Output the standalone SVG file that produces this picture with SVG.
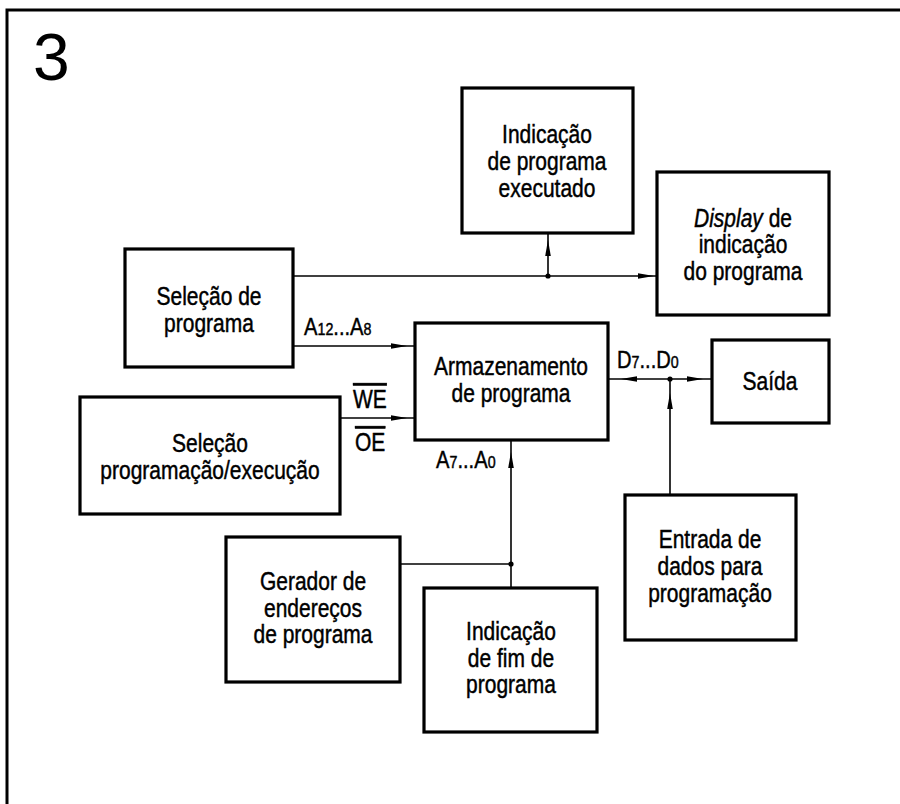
<svg xmlns="http://www.w3.org/2000/svg" xmlns:xlink="http://www.w3.org/1999/xlink" width="900" height="804" viewBox="0 0 900 804">
<style>
.frame{fill:none;stroke:#000;stroke-width:3}
.box{fill:#fff;stroke:#000;stroke-width:3.2}
.t{font-family:"Liberation Sans",Arial,sans-serif;font-size:25px;text-anchor:middle;fill:#000;stroke:#000;stroke-width:0.45}
.lbl{font-family:"Liberation Sans",Arial,sans-serif;font-size:24px;text-anchor:start;fill:#000;stroke:#000;stroke-width:0.45}
.sub{font-size:17px}
.ol{text-decoration:overline}
.wire{fill:none;stroke:#000;stroke-width:1.6}
.dot{fill:#000}
.ah{fill:#000}
</style>
<defs>
<path id="ah" d="M0,0 L-16,-2.8 L-16,2.8 Z"/>
</defs>
<rect width="900" height="804" fill="#fff"/>
<path class="frame" d="M7,804 V10 H900"/>
<text x="33" y="80" font-family="Liberation Sans,Arial,sans-serif" font-size="66" fill="#000">3</text>

<g id="connectors">
<path class="wire" d="M293,276 H657"/>
<path class="wire" d="M548,276 V233"/>
<path class="wire" d="M293,346 H415"/>
<path class="wire" d="M340,418 H415"/>
<path class="wire" d="M511,440 V588"/>
<path class="wire" d="M400,564 H511"/>
<path class="wire" d="M608,379 H712"/>
<path class="wire" d="M670,379 V495"/>
<use href="#ah" class="ah" transform="translate(654,276)"/>
<use href="#ah" class="ah" transform="translate(548,240) rotate(-90)"/>
<use href="#ah" class="ah" transform="translate(407,346)"/>
<use href="#ah" class="ah" transform="translate(407,418)"/>
<use href="#ah" class="ah" transform="translate(511,452) rotate(-90)"/>
<use href="#ah" class="ah" transform="translate(621,379) rotate(180)"/>
<use href="#ah" class="ah" transform="translate(703,379)"/>
<use href="#ah" class="ah" transform="translate(670,393) rotate(-90)"/>
<circle class="dot" cx="548" cy="276" r="2.6"/>
<circle class="dot" cx="511" cy="564" r="2.6"/>
<circle class="dot" cx="670" cy="379" r="2.6"/>
<text class="lbl" transform="translate(304,0) scale(0.84,1)"><tspan x="0" y="335">A</tspan><tspan class="sub" y="335">12</tspan><tspan y="335">...A</tspan><tspan class="sub" y="335">8</tspan></text>
<text class="lbl" transform="translate(353,0) scale(0.84,1)" style="font-size:25px"><tspan class="ol" x="0" y="408">WE</tspan></text>
<text class="lbl" transform="translate(355,0) scale(0.84,1)" style="font-size:25px"><tspan class="ol" x="0" y="451">OE</tspan></text>
<text class="lbl" transform="translate(436,0) scale(0.84,1)"><tspan x="0" y="468">A</tspan><tspan class="sub" y="468">7</tspan><tspan y="468">...A</tspan><tspan class="sub" y="468">0</tspan></text>
<text class="lbl" transform="translate(617,0) scale(0.84,1)"><tspan x="0" y="368">D</tspan><tspan class="sub" y="368">7</tspan><tspan y="368">...D</tspan><tspan class="sub" y="368">0</tspan></text>
</g>

<g id="n-execind">
<rect class="box" x="462" y="88" width="171" height="145"/>
<text class="t" transform="translate(547,0) scale(0.84,1)"><tspan x="0" y="143">Indicação</tspan><tspan x="0" y="170">de programa</tspan><tspan x="0" y="197">executado</tspan></text>
</g>
<g id="n-display">
<rect class="box" x="657" y="172" width="172" height="143"/>
<text class="t" transform="translate(743,0) scale(0.84,1)"><tspan x="0" y="227"><tspan font-style="italic">Display</tspan> de</tspan><tspan x="0" y="253">indicação</tspan><tspan x="0" y="280">do programa</tspan></text>
</g>
<g id="n-selprog">
<rect class="box" x="125" y="249" width="168" height="118"/>
<text class="t" transform="translate(209,0) scale(0.84,1)"><tspan x="0" y="305">Seleção de</tspan><tspan x="0" y="332">programa</tspan></text>
</g>
<g id="n-armaz">
<rect class="box" x="415" y="323" width="193" height="117"/>
<text class="t" transform="translate(511,0) scale(0.84,1)"><tspan x="0" y="375">Armazenamento</tspan><tspan x="0" y="402">de programa</tspan></text>
</g>
<g id="n-saida">
<rect class="box" x="712" y="340" width="117" height="83"/>
<text class="t" transform="translate(770,0) scale(0.84,1)"><tspan x="0" y="390">Saída</tspan></text>
</g>
<g id="n-selpe">
<rect class="box" x="80" y="397" width="260" height="117"/>
<text class="t" transform="translate(210,0) scale(0.84,1)"><tspan x="0" y="452">Seleção</tspan><tspan x="0" y="479">programação/execução</tspan></text>
</g>
<g id="n-gerador">
<rect class="box" x="226" y="537" width="174" height="145"/>
<text class="t" transform="translate(313,0) scale(0.84,1)"><tspan x="0" y="590">Gerador de</tspan><tspan x="0" y="617">endereços</tspan><tspan x="0" y="643">de programa</tspan></text>
</g>
<g id="n-fimind">
<rect class="box" x="424" y="588" width="173" height="144"/>
<text class="t" transform="translate(511,0) scale(0.84,1)"><tspan x="0" y="640">Indicação</tspan><tspan x="0" y="667">de fim de</tspan><tspan x="0" y="693">programa</tspan></text>
</g>
<g id="n-entrada">
<rect class="box" x="625" y="495" width="171" height="145"/>
<text class="t" transform="translate(710,0) scale(0.84,1)"><tspan x="0" y="548">Entrada de</tspan><tspan x="0" y="575">dados para</tspan><tspan x="0" y="602">programação</tspan></text>
</g>
</svg>
